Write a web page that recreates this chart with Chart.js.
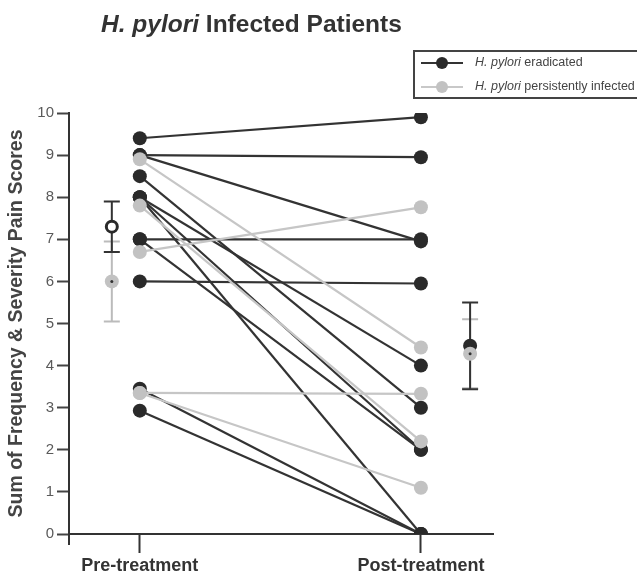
<!DOCTYPE html>
<html>
<head>
<meta charset="utf-8">
<script src="https://cdn.jsdelivr.net/npm/chart.js@4.4.1/dist/chart.umd.min.js"></script>
<style>
  body { margin: 0; background: #fff; font-family: 'Liberation Sans', Arial, sans-serif; }
  #wrap { position: relative; width: 638px; height: 575px; }
  #title { position: absolute; left: 101px; top: 10px; font-size: 24.5px; font-weight: bold; color: #333; white-space: nowrap; }
  #legend { position: absolute; left: 413px; top: 50px; width: 222px; height: 45px; border: 2px solid #444; border-right: none; }
  .row { position: absolute; left: 0; height: 14px; font-size: 12.5px; color: #444; white-space: nowrap; }
  .row .ln { position: absolute; left: 6px; top: 6px; width: 42px; height: 2px; }
  .row .dot { position: absolute; left: 21px; top: 1px; width: 12px; height: 12px; border-radius: 50%; }
  .row .txt { position: absolute; left: 60px; top: -1px; }
</style>
</head>
<body>
<div id="wrap">
  <canvas id="chart" width="638" height="575"></canvas>
  <div id="title"><i>H. pylori</i> Infected Patients</div>
  <div id="legend">
    <div class="row" style="top:4px"><span class="ln" style="background:#333"></span><span class="dot" style="background:#2a2a2a"></span><span class="txt"><i>H. pylori</i> eradicated</span></div>
    <div class="row" style="top:28px"><span class="ln" style="background:#c8c8c8"></span><span class="dot" style="background:#c2c2c2"></span><span class="txt"><i>H. pylori</i> persistently infected</span></div>
  </div>
</div>
<script>
// values
const categories = ['Pre-treatment', 'Post-treatment'];
const yTicks = [0, 1, 2, 3, 4, 5, 6, 7, 8, 9, 10];

const eradPre  = [9.4, 9.0, 9.0, 8.5, 8.0, 8.0, 8.0, 7.0, 7.0, 6.0, 3.45, 2.93];
const eradPost = [9.9, 8.95, 6.95, 3.0, 4.0, 2.0, 0, 7.0, 2.0, 5.95, 0, 0];

const persPre  = [8.9, 7.8, 6.7, 3.35, 3.35];
const persPost = [4.43, 2.2, 7.76, 3.33, 1.1];

// group mean and error bar (pre, post)
const eradMean = [7.3, 4.47];
const eradErr  = [0.6, 1.03];
const persMean = [6.0, 4.28];
const persErr  = [0.95, 0.82];

const DARK = '#2a2a2a';
const GREY = '#c2c2c2';

// x positions on a 0..10 linear scale
const catX = [1.67, 8.3];
const meanX = [1.01, 9.46];

Chart.defaults.font.family = "'Liberation Sans', Arial, sans-serif";

const pairSet = (a, b, col, lineCol) => ({
    data: [{x: catX[0], y: a}, {x: catX[1], y: b}],
    showLine: true,
    borderColor: lineCol,
    borderWidth: 2.2,
    pointRadius: 7,
    pointBackgroundColor: col,
    pointBorderColor: col,
    pointBorderWidth: 0
});

let datasets = [];

// mean markers (drawn on top -> first)
datasets.push({
    data: [{x: meanX[0], y: persMean[0]}, {x: meanX[1], y: persMean[1]}],
    pointRadius: 1.5, pointBackgroundColor: '#333', pointBorderWidth: 0
});
datasets.push({
    data: [{x: meanX[0], y: persMean[0]}, {x: meanX[1], y: persMean[1]}],
    pointRadius: 7, pointBackgroundColor: GREY, pointBorderWidth: 0
});
datasets.push({
    data: [{x: meanX[0], y: eradMean[0]}],
    pointRadius: 5.5, pointBackgroundColor: '#fff', pointBorderColor: DARK, pointBorderWidth: 3
});
datasets.push({
    data: [{x: meanX[1], y: eradMean[1]}],
    pointRadius: 7, pointBackgroundColor: DARK, pointBorderWidth: 0
});

for (let i = 0; i < persPre.length; ++i)
{
    datasets.push(pairSet(persPre[i], persPost[i], GREY, '#c6c6c6'));
}
for (let i = 0; i < eradPre.length; ++i)
{
    datasets.push(pairSet(eradPre[i], eradPost[i], DARK, '#333'));
}

const errorBars = {
    id: 'errorBars',
    beforeDatasetsDraw(chart) {
        const {ctx, scales: {x, y}} = chart;
        const groups = [
            {mean: persMean, err: persErr, col: '#bbb'},
            {mean: eradMean, err: eradErr, col: '#333'}
        ];
        ctx.save();
        ctx.lineWidth = 2;
        groups.forEach(g => {
            ctx.strokeStyle = g.col;
            g.mean.forEach((m, i) => {
                const px = x.getPixelForValue(meanX[i]);
                const top = y.getPixelForValue(m + g.err[i]);
                const bot = y.getPixelForValue(m - g.err[i]);
                ctx.beginPath();
                ctx.moveTo(px, top); ctx.lineTo(px, bot);
                ctx.moveTo(px - 8, top); ctx.lineTo(px + 8, top);
                ctx.moveTo(px - 8, bot); ctx.lineTo(px + 8, bot);
                ctx.stroke();
            });
        });
        // y axis runs a little below zero
        const a = chart.chartArea;
        ctx.strokeStyle = '#333';
        ctx.beginPath();
        ctx.moveTo(a.left, a.bottom);
        ctx.lineTo(a.left, a.bottom + 11);
        ctx.stroke();
        ctx.restore();
    }
};

new Chart(document.getElementById('chart').getContext('2d'), {
    type: 'scatter',
    data: { datasets: datasets },
    options: {
        responsive: false,
        animation: false,
        layout: { padding: { top: 113, right: 145, left: 0, bottom: 0 } },
        plugins: {
            legend: { display: false },
            tooltip: { enabled: false }
        },
        scales: {
            x: {
                type: 'linear',
                min: 0,
                max: 10,
                afterBuildTicks: (s) => { s.ticks = catX.map(v => ({value: v})); },
                afterFit: (s) => { s.height = 41; },
                ticks: {
                    callback: (v) => categories[catX.indexOf(v)],
                    color: '#333',
                    font: { size: 18, weight: 'bold' },
                    padding: 2,
                    maxRotation: 0
                },
                grid: { drawOnChartArea: false, tickLength: 19, tickWidth: 2, tickColor: '#333' },
                border: { display: true, color: '#333', width: 2 }
            },
            y: {
                min: 0,
                max: 10,
                afterBuildTicks: (s) => { s.ticks = yTicks.map(v => ({value: v})); },
                afterFit: (s) => { s.width = 69; },
                ticks: { color: '#5a5a5a', font: { size: 15 }, padding: 3 },
                grid: { drawOnChartArea: false, tickLength: 12, tickWidth: 2, tickColor: '#444' },
                border: { display: true, color: '#333', width: 2 },
                title: {
                    display: true,
                    text: 'Sum of Frequency & Severity Pain Scores',
                    color: '#444',
                    font: { size: 19.5, weight: 'bold' },
                    padding: { top: 5, bottom: 0 }
                }
            }
        }
    },
    plugins: [errorBars]
});
</script>
</body>
</html>
